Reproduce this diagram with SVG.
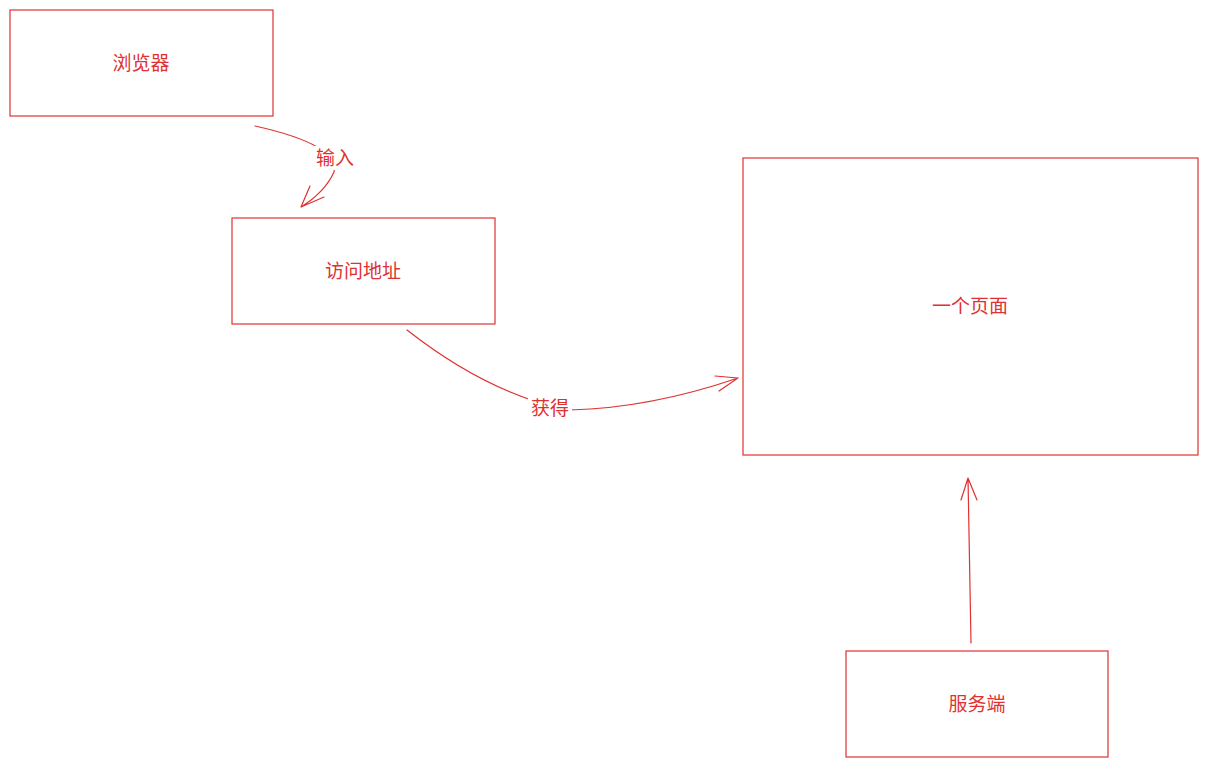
<svg xmlns="http://www.w3.org/2000/svg" width="1208" height="768" viewBox="0 0 1208 768">
<style>
.b{fill:#fff;stroke:#e03131;stroke-width:1.2}
.t{font-family:"Liberation Sans","Noto Sans CJK SC",sans-serif;font-size:19px;fill:#e03131;text-anchor:middle;dominant-baseline:central}
.c{fill:none;stroke:#e03131;stroke-width:1.2;stroke-linecap:round}
</style>
<rect width="1208" height="768" fill="#fff"/>
<g id="n1"><rect class="b" x="10" y="10" width="263" height="106"/><text class="t" x="141" y="63">浏览器</text></g>
<g id="n2"><rect class="b" x="232" y="218" width="263" height="106"/><text class="t" x="363" y="271">访问地址</text></g>
<g id="n3"><rect class="b" x="743" y="158" width="455" height="297"/><text class="t" x="970" y="306">一个页面</text></g>
<g id="n4"><rect class="b" x="846" y="651" width="262" height="106"/><text class="t" x="977" y="704">服务端</text></g>
<g id="edges">
<path class="c" d="M255,126 Q340,145 334,172 Q325,192 301,207 M301,207 L324,197 M301,207 L310,186"/>
<rect x="313" y="146" width="44" height="24" fill="#fff"/>
<text class="t" x="335" y="158">输入</text>
<path class="c" d="M407,330 Q490,395 570,410 Q650,408 738,378 M738,378 L715,376 M738,378 L719,391"/>
<rect x="528" y="396" width="44" height="24" fill="#fff"/>
<text class="t" x="550" y="408">获得</text>
<path class="c" d="M971,643 L968,478 M968,478 L961,500 M968,478 L977,500"/>
</g>
</svg>
